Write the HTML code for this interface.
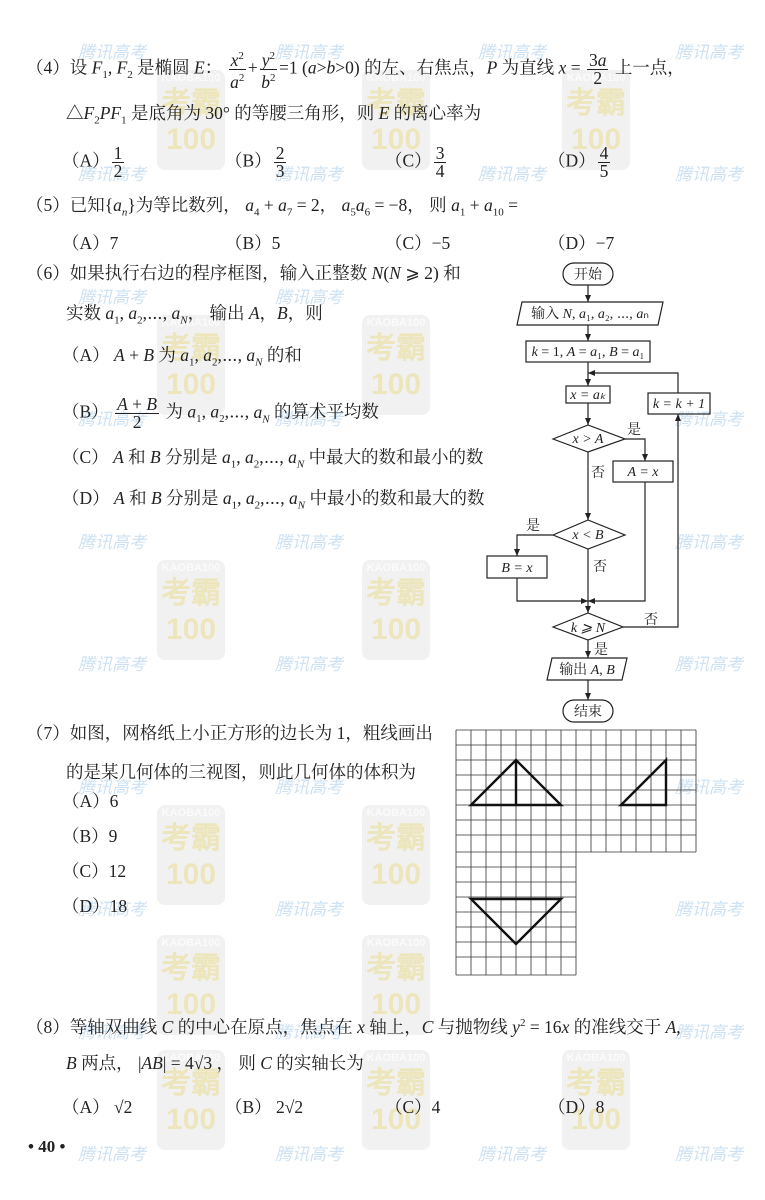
<!DOCTYPE html>
<html><head><meta charset="utf-8"><style>
body{margin:0;width:765px;height:1200px;background:#fff;position:relative;overflow:hidden;font-family:"Liberation Serif","Noto Serif CJK SC",serif;font-size:17.5px;color:#222}
.t{position:absolute;white-space:nowrap;line-height:20px}
i{font-style:italic}
.fr{display:inline-block;vertical-align:middle;text-align:center;line-height:17px;margin:0 2px}
.fr span{display:block}
.fr .n{border-bottom:1px solid #222;padding:0 2px}
sub{font-size:11px}sup{font-size:11px}
.wm{position:absolute;width:68px;height:100px;border-radius:8px;background:rgba(150,150,150,.13);color:rgba(230,210,90,.35);font:bold 30px "Liberation Sans",sans-serif;text-align:center;line-height:36px}
.wm small{display:block;font-size:11px;line-height:16px;color:rgba(255,255,255,.7)}
.tx{position:absolute;font:italic 17px "Liberation Sans","Noto Sans CJK SC",sans-serif;color:rgba(110,170,220,.35)}
</style></head><body>
<div class="wm" style="left:157px;top:70px"><small>KAOBA100</small>考霸<br>100</div>
<div class="wm" style="left:362px;top:70px"><small>KAOBA100</small>考霸<br>100</div>
<div class="wm" style="left:562px;top:70px"><small>KAOBA100</small>考霸<br>100</div>
<div class="wm" style="left:157px;top:315px"><small>KAOBA100</small>考霸<br>100</div>
<div class="wm" style="left:362px;top:315px"><small>KAOBA100</small>考霸<br>100</div>
<div class="wm" style="left:157px;top:560px"><small>KAOBA100</small>考霸<br>100</div>
<div class="wm" style="left:362px;top:560px"><small>KAOBA100</small>考霸<br>100</div>
<div class="wm" style="left:157px;top:805px"><small>KAOBA100</small>考霸<br>100</div>
<div class="wm" style="left:362px;top:805px"><small>KAOBA100</small>考霸<br>100</div>
<div class="wm" style="left:157px;top:935px"><small>KAOBA100</small>考霸<br>100</div>
<div class="wm" style="left:362px;top:935px"><small>KAOBA100</small>考霸<br>100</div>
<div class="wm" style="left:562px;top:1050px"><small>KAOBA100</small>考霸<br>100</div>
<div class="wm" style="left:157px;top:1050px"><small>KAOBA100</small>考霸<br>100</div>
<div class="wm" style="left:362px;top:1050px"><small>KAOBA100</small>考霸<br>100</div>
<div class="tx" style="left:78px;top:38px">腾讯高考</div><div class="tx" style="left:275px;top:38px">腾讯高考</div><div class="tx" style="left:478px;top:38px">腾讯高考</div><div class="tx" style="left:675px;top:38px">腾讯高考</div>
<div class="tx" style="left:78px;top:160px">腾讯高考</div><div class="tx" style="left:275px;top:160px">腾讯高考</div><div class="tx" style="left:478px;top:160px">腾讯高考</div><div class="tx" style="left:675px;top:160px">腾讯高考</div>
<div class="tx" style="left:78px;top:283px">腾讯高考</div><div class="tx" style="left:275px;top:283px">腾讯高考</div>
<div class="tx" style="left:78px;top:405px">腾讯高考</div><div class="tx" style="left:275px;top:405px">腾讯高考</div><div class="tx" style="left:675px;top:405px">腾讯高考</div>
<div class="tx" style="left:78px;top:528px">腾讯高考</div><div class="tx" style="left:275px;top:528px">腾讯高考</div><div class="tx" style="left:675px;top:528px">腾讯高考</div>
<div class="tx" style="left:78px;top:650px">腾讯高考</div><div class="tx" style="left:275px;top:650px">腾讯高考</div><div class="tx" style="left:675px;top:650px">腾讯高考</div>
<div class="tx" style="left:78px;top:773px">腾讯高考</div><div class="tx" style="left:275px;top:773px">腾讯高考</div><div class="tx" style="left:675px;top:773px">腾讯高考</div>
<div class="tx" style="left:78px;top:895px">腾讯高考</div><div class="tx" style="left:275px;top:895px">腾讯高考</div><div class="tx" style="left:675px;top:895px">腾讯高考</div>
<div class="tx" style="left:78px;top:1018px">腾讯高考</div><div class="tx" style="left:275px;top:1018px">腾讯高考</div><div class="tx" style="left:675px;top:1018px">腾讯高考</div>
<div class="tx" style="left:78px;top:1140px">腾讯高考</div><div class="tx" style="left:275px;top:1140px">腾讯高考</div><div class="tx" style="left:478px;top:1140px">腾讯高考</div><div class="tx" style="left:675px;top:1140px">腾讯高考</div>

<div class="t" style="left:26px;top:48px">（4）设 <i>F</i><sub>1</sub>, <i>F</i><sub>2</sub> 是椭圆 <i>E</i>： <span class="fr"><span class="n"><i>x</i><sup>2</sup></span><span><i>a</i><sup>2</sup></span></span>+<span class="fr"><span class="n"><i>y</i><sup>2</sup></span><span><i>b</i><sup>2</sup></span></span>=1 (<i>a</i>&gt;<i>b</i>&gt;0) 的左、右焦点，<i>P</i> 为直线 <i>x</i> = <span class="fr"><span class="n">3<i>a</i></span><span>2</span></span> 上一点，</div>
<div class="t" style="left:66px;top:103px">△<i>F</i><sub>2</sub><i>PF</i><sub>1</sub> 是底角为 30° 的等腰三角形，则 <i>E</i> 的离心率为</div>
<div class="t" style="left:62px;top:145px">（A）<span class="fr"><span class="n">1</span><span>2</span></span></div>
<div class="t" style="left:225px;top:145px">（B）<span class="fr"><span class="n">2</span><span>3</span></span></div>
<div class="t" style="left:385px;top:145px">（C）<span class="fr"><span class="n">3</span><span>4</span></span></div>
<div class="t" style="left:548px;top:145px">（D）<span class="fr"><span class="n">4</span><span>5</span></span></div>
<div class="t" style="left:26px;top:195px">（5）已知{<i>a<sub>n</sub></i>}为等比数列， <i>a</i><sub>4</sub> + <i>a</i><sub>7</sub> = 2， <i>a</i><sub>5</sub><i>a</i><sub>6</sub> = −8， 则 <i>a</i><sub>1</sub> + <i>a</i><sub>10</sub> =</div>
<div class="t" style="left:62px;top:233px">（A）7</div><div class="t" style="left:225px;top:233px">（B）5</div><div class="t" style="left:385px;top:233px">（C）−5</div><div class="t" style="left:548px;top:233px">（D）−7</div>
<div class="t" style="left:26px;top:263px">（6）如果执行右边的程序框图，输入正整数 <i>N</i>(<i>N</i> ⩾ 2) 和</div>
<div class="t" style="left:66px;top:303px">实数 <i>a</i><sub>1</sub>, <i>a</i><sub>2</sub>,⋯, <i>a<sub>N</sub></i>， 输出 <i>A</i>，<i>B</i>，则</div>
<div class="t" style="left:62px;top:345px">（A） <i>A</i> + <i>B</i> 为 <i>a</i><sub>1</sub>, <i>a</i><sub>2</sub>,⋯, <i>a<sub>N</sub></i> 的和</div>
<div class="t" style="left:62px;top:396px">（B） <span class="fr"><span class="n"><i>A</i> + <i>B</i></span><span>2</span></span> 为 <i>a</i><sub>1</sub>, <i>a</i><sub>2</sub>,⋯, <i>a<sub>N</sub></i> 的算术平均数</div>
<div class="t" style="left:62px;top:447px">（C） <i>A</i> 和 <i>B</i> 分别是 <i>a</i><sub>1</sub>, <i>a</i><sub>2</sub>,⋯, <i>a<sub>N</sub></i> 中最大的数和最小的数</div>
<div class="t" style="left:62px;top:488px">（D） <i>A</i> 和 <i>B</i> 分别是 <i>a</i><sub>1</sub>, <i>a</i><sub>2</sub>,⋯, <i>a<sub>N</sub></i> 中最小的数和最大的数</div>
<div class="t" style="left:26px;top:723px">（7）如图，网格纸上小正方形的边长为 1，粗线画出</div>
<div class="t" style="left:66px;top:762px">的是某几何体的三视图，则此几何体的体积为</div>
<div class="t" style="left:62px;top:791px">（A）6</div><div class="t" style="left:62px;top:826px">（B）9</div><div class="t" style="left:62px;top:861px">（C）12</div><div class="t" style="left:62px;top:896px">（D）18</div>
<div class="t" style="left:26px;top:1013px">（8）等轴双曲线 <i>C</i> 的中心在原点，焦点在 <i>x</i> 轴上，<i>C</i> 与抛物线 <i>y</i><sup>2</sup> = 16<i>x</i> 的准线交于 <i>A</i>,</div>
<div class="t" style="left:66px;top:1053px"><i>B</i> 两点， |<i>AB</i>| = 4√3 ， 则 <i>C</i> 的实轴长为</div>
<div class="t" style="left:62px;top:1097px">（A） √2</div><div class="t" style="left:225px;top:1097px">（B） 2√2</div><div class="t" style="left:385px;top:1097px">（C）4</div><div class="t" style="left:548px;top:1097px">（D）8</div>
<div class="t" style="left:28px;top:1137px;font-weight:bold;font-size:17px">• 40 •</div>

<svg width="765" height="1200" style="position:absolute;left:0;top:0" font-family="Liberation Serif,Noto Serif CJK SC,serif" font-size="14">
<defs><marker id="a" markerWidth="8" markerHeight="8" refX="7" refY="4" orient="auto" markerUnits="userSpaceOnUse"><path d="M0,1 L7,4 L0,7 z" fill="#222"/></marker></defs>
<g stroke="#222" stroke-width="1.2" fill="none">
<rect x="563" y="263" width="50" height="22" rx="11"/>
<polygon points="522,302 663,302 658,325 517,325"/>
<rect x="526" y="341" width="124" height="21"/>
<rect x="566" y="386" width="44" height="17"/>
<rect x="648" y="393" width="62" height="21"/>
<polygon points="553,439 588,425 625,439 588,452"/>
<rect x="613" y="461" width="60" height="21"/>
<polygon points="553,535 588,520 625,535 588,549"/>
<rect x="487" y="556" width="60" height="22"/>
<polygon points="553,627 588,613 623,627 588,640"/>
<polygon points="552,658 627,658 622,680 547,680"/>
<rect x="563" y="700" width="50" height="22" rx="11"/>
<path d="M588,285V302" marker-end="url(#a)"/>
<path d="M588,325V341" marker-end="url(#a)"/>
<path d="M588,362V386" marker-end="url(#a)"/>
<path d="M588,403V425" marker-end="url(#a)"/>
<path d="M625,439H645V461" marker-end="url(#a)"/>
<path d="M588,452V520" marker-end="url(#a)"/>
<path d="M553,535H517V556" marker-end="url(#a)"/>
<path d="M588,549V613" marker-end="url(#a)"/>
<path d="M517,578V601H588" marker-end="url(#a)"/>
<path d="M645,482V601H588" marker-end="url(#a)"/>
<path d="M623,627H678V414" marker-end="url(#a)"/>
<path d="M678,393V373H588" marker-end="url(#a)"/>
<path d="M588,640V658" marker-end="url(#a)"/>
<path d="M588,680V700" marker-end="url(#a)"/>
</g>
<g fill="#222" text-anchor="middle">
<text x="588" y="279">开始</text>
<text x="590" y="318">输入 <tspan font-style="italic">N</tspan>, <tspan font-style="italic">a</tspan>₁, <tspan font-style="italic">a</tspan>₂, ⋯, <tspan font-style="italic">a</tspan>ₙ</text>
<text x="588" y="356"><tspan font-style="italic">k</tspan> = 1, <tspan font-style="italic">A</tspan> = <tspan font-style="italic">a</tspan>₁, <tspan font-style="italic">B</tspan> = <tspan font-style="italic">a</tspan>₁</text>
<text x="588" y="399" font-style="italic">x = aₖ</text>
<text x="679" y="408" font-style="italic">k = k + 1</text>
<text x="588" y="443" font-style="italic">x &gt; A</text>
<text x="643" y="476" font-style="italic">A = x</text>
<text x="588" y="539" font-style="italic">x &lt; B</text>
<text x="517" y="572" font-style="italic">B = x</text>
<text x="588" y="632" font-style="italic">k ⩾ N</text>
<text x="587" y="674">输出 <tspan font-style="italic">A</tspan>, <tspan font-style="italic">B</tspan></text>
<text x="588" y="716">结束</text>
<text x="634" y="434">是</text><text x="598" y="477">否</text>
<text x="533" y="530">是</text><text x="600" y="571">否</text>
<text x="651" y="624">否</text><text x="601" y="654">是</text>
</g>
<g stroke="#333" stroke-width="0.8">
<path d="M456,730V975M471,730V975M486,730V975M501,730V975M516,730V975M531,730V975M546,730V975M561,730V975M576,730V975
M591,730V852M606,730V852M621,730V852M636,730V852M651,730V852M666,730V852M681,730V852M696,730V852
M456,730H696M456,745H696M456,760H696M456,775H696M456,790H696M456,805H696M456,820H696M456,835H696M456,852H696
M456,867H576M456,882H576M456,897H576M456,912H576M456,927H576M456,942H576M456,957H576M456,975H576"/>
</g>
<g stroke="#111" stroke-width="2.4" fill="none">
<path d="M471,805L516,760L561,805Z M516,760V805"/>
<path d="M621,805L666,760V805Z"/>
<path d="M471,899H561L516,944Z"/>
</g>
</svg>
</body></html>
